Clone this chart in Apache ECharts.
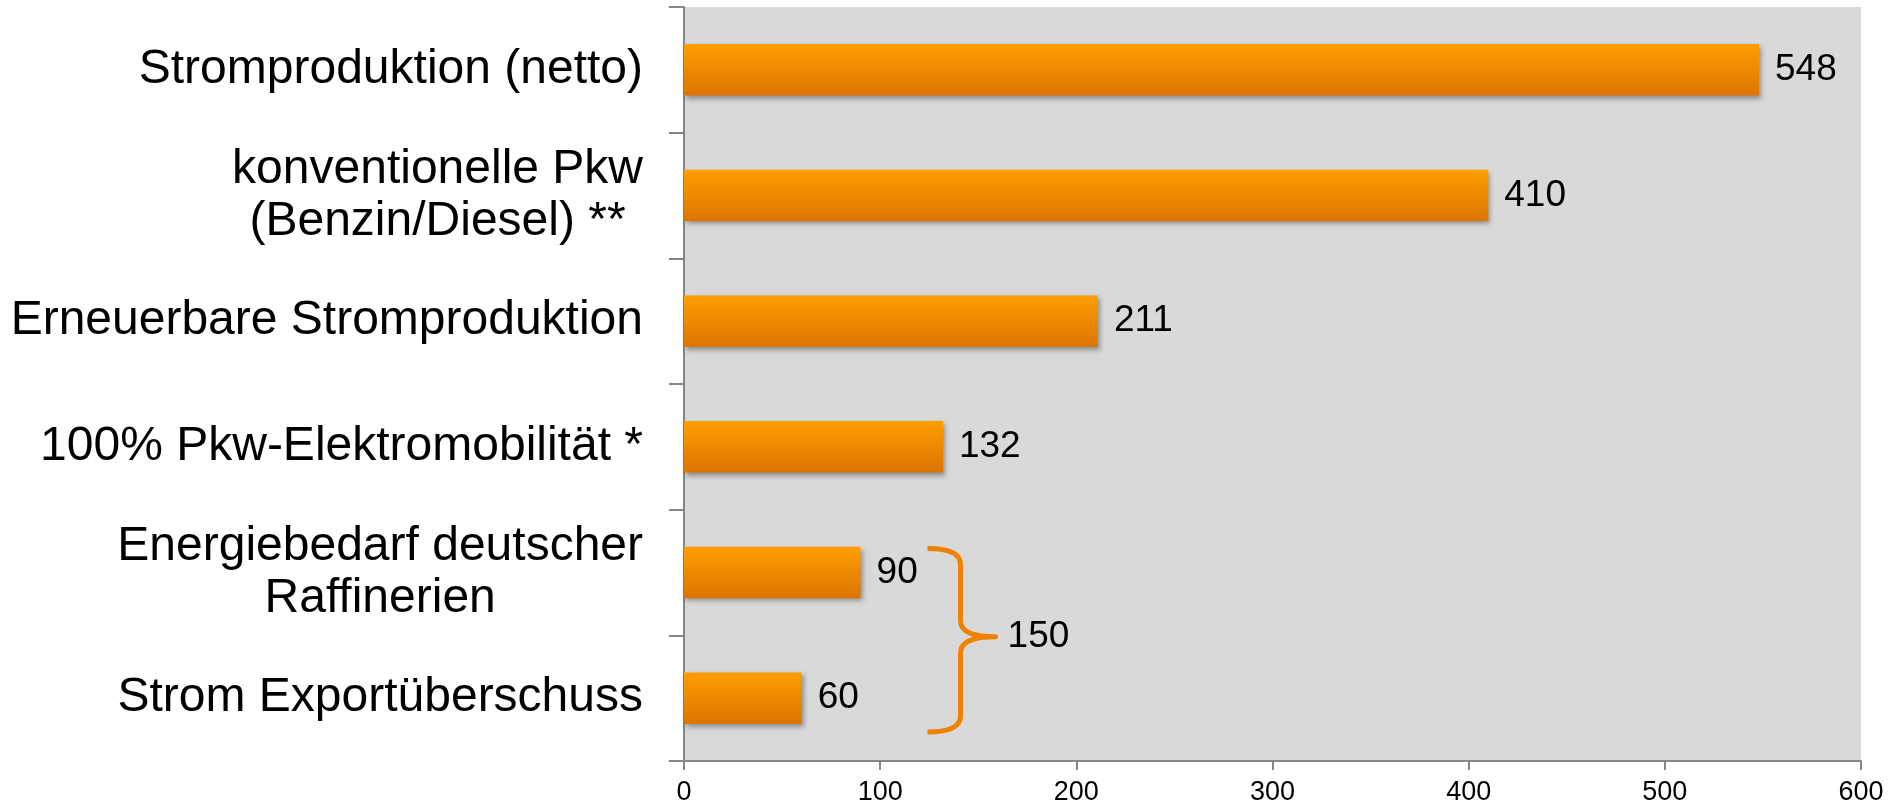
<!DOCTYPE html>
<html>
<head>
<meta charset="utf-8">
<style>
  html, body { margin: 0; padding: 0; background: #ffffff; }
  #chart { width: 1902px; height: 809px; }
</style>
<script src="https://cdn.jsdelivr.net/npm/echarts@6/dist/echarts.min.js"></script>
</head>
<body>
<div id="chart"></div>
<script>
// Kategorien (von oben nach unten) und Werte
const categories = [
  'Stromproduktion (netto)',
  'konventionelle Pkw\n(Benzin/Diesel) **',
  'Erneuerbare Stromproduktion',
  '100% Pkw-Elektromobilität *',
  'Energiebedarf deutscher\nRaffinerien',
  'Strom Exportüberschuss'
];
const values = [548, 410, 211, 132, 90, 60];

// Achsenbereich der Werteachse
const xTicks = [0, 100, 200, 300, 400, 500, 600];

// Geschweifte Klammer: fasst diese beiden Kategorien zusammen
const bracketGroup = [4, 5];

const FONT = '"Liberation Sans", Arial, Helvetica, sans-serif';
const chart = echarts.init(document.getElementById('chart'));

const bracketSum = bracketGroup.reduce((s, i) => s + values[i], 0);

function renderBracket(params, api) {
  const iTop = api.value(1);
  const iBot = api.value(2);
  const band = api.size([0, 1])[1];
  const maxVal = Math.max(values[iTop], values[iBot]);
  const xBase = api.coord([maxVal, iTop])[0];
  const cTop = api.coord([0, iTop])[1];
  const cBot = api.coord([0, iBot])[1];
  const x0 = xBase + 67;       // Enden der Klammer
  const xs = xBase + 100;      // senkrechter Schaft
  const xt = xBase + 135;      // Spitze
  const yTop = cTop - 0.19 * band;
  const yBot = cBot + 0.27 * band;
  const yMid = (cTop + cBot) / 2 + 1.5;
  const r = 16;
  const path =
    'M' + x0 + ',' + yTop +
    ' Q' + xs + ',' + yTop + ' ' + xs + ',' + (yTop + r) +
    ' L' + xs + ',' + (yMid - r) +
    ' Q' + xs + ',' + yMid + ' ' + xt + ',' + yMid +
    ' Q' + xs + ',' + yMid + ' ' + xs + ',' + (yMid + r) +
    ' L' + xs + ',' + (yBot - r) +
    ' Q' + xs + ',' + yBot + ' ' + x0 + ',' + yBot;
  return {
    type: 'group',
    children: [
      {
        type: 'path',
        shape: { pathData: path },
        style: { fill: null, stroke: '#F08200', lineWidth: 5, lineCap: 'butt', lineJoin: 'round' }
      },
      {
        type: 'text',
        x: xt + 12,
        y: yMid,
        style: {
          text: String(api.value(0)),
          fill: '#000000',
          font: '37px ' + FONT,
          verticalAlign: 'middle',
          align: 'left'
        }
      }
    ]
  };
}

chart.setOption({
  animation: false,
  textStyle: { fontFamily: FONT },
  grid: {
    left: 684, right: 41, top: 7, bottom: 48,
    show: true, backgroundColor: '#D9D9D9', borderWidth: 0,
    containLabel: false
  },
  xAxis: {
    type: 'value',
    min: xTicks[0],
    max: xTicks[xTicks.length - 1],
    interval: xTicks[1] - xTicks[0],
    axisLine: { show: true, lineStyle: { color: '#868686', width: 2 } },
    axisTick: { show: true, length: 9, lineStyle: { color: '#868686', width: 2 } },
    splitLine: { show: false },
    axisLabel: { color: '#000000', fontSize: 27, margin: 18, fontFamily: FONT }
  },
  yAxis: {
    type: 'category',
    inverse: true,
    data: categories,
    axisLine: { show: true, lineStyle: { color: '#868686', width: 2 } },
    axisTick: { show: true, length: 15, lineStyle: { color: '#868686', width: 2 } },
    splitLine: { show: false },
    axisLabel: {
      color: '#000000',
      fontSize: 48,
      lineHeight: 52,
      margin: 41,
      align: 'right',
      fontFamily: FONT,
      formatter: function (v) {
        return v.split('\n').map(l => '{c|' + l + '}').join('\n');
      },
      rich: {
        c: { align: 'center', fontSize: 48, lineHeight: 52, color: '#000000', fontFamily: FONT }
      }
    }
  },
  series: [
    {
      type: 'bar',
      data: values,
      barWidth: '41%',
      itemStyle: {
        color: new echarts.graphic.LinearGradient(0, 0, 0, 1, [
          { offset: 0, color: '#FF9E00' },
          { offset: 1, color: '#DC7400' }
        ]),
        shadowColor: 'rgba(0,0,0,0.35)',
        shadowBlur: 5,
        shadowOffsetX: 2,
        shadowOffsetY: 3
      },
      label: {
        show: true,
        position: 'right',
        distance: 16,
        color: '#000000',
        fontSize: 37,
        fontFamily: FONT
      },
      z: 2
    },
    {
      type: 'custom',
      coordinateSystem: 'cartesian2d',
      data: [[bracketSum, bracketGroup[0], bracketGroup[1]]],
      encode: { x: 0, y: 1 },
      renderItem: renderBracket,
      clip: false,
      silent: true,
      z: 3
    }
  ]
});
</script>
</body>
</html>
